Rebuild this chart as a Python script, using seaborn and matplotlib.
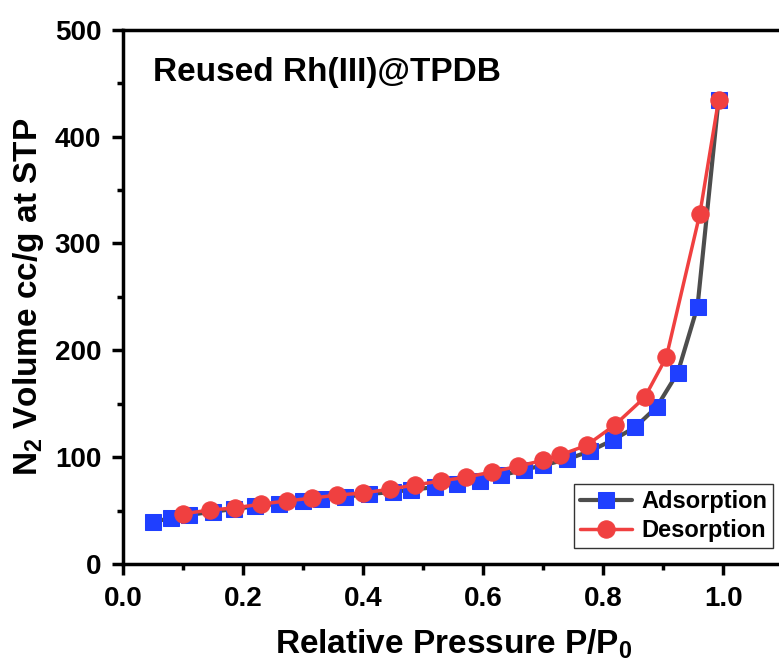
import numpy as np
import pandas as pd
import matplotlib
matplotlib.use('Agg')
import matplotlib.pyplot as plt
import seaborn as sns
from matplotlib.ticker import MultipleLocator

# Datos
ads_p = [0.05, 0.08, 0.11, 0.15, 0.185, 0.22, 0.26, 0.30, 0.33, 0.37, 0.41, 0.45,
         0.48, 0.52, 0.556, 0.594, 0.63, 0.667, 0.70, 0.74, 0.777, 0.816, 0.853,
         0.889, 0.924, 0.957, 0.992]
ads_v = [39.5, 43, 46, 49, 51.5, 54, 56.5, 59, 61, 63, 65.5, 67.5,
         69.5, 72, 75, 78, 83, 88, 92.5, 98, 105.5, 116, 128,
         147, 179, 241, 434]

des_p = [0.10, 0.144, 0.186, 0.229, 0.272, 0.315, 0.356, 0.399, 0.444, 0.486,
         0.529, 0.571, 0.614, 0.658, 0.70, 0.728, 0.772, 0.819, 0.869, 0.905,
         0.961, 0.992]
des_v = [47, 50.5, 52.5, 56, 59, 61.7, 64.5, 66.4, 70, 74,
         77.6, 81.3, 86, 91.6, 97, 102, 111, 130, 156, 193.5,
         328, 434]

ads = pd.DataFrame({'p': ads_p, 'v': ads_v})
des = pd.DataFrame({'p': des_p, 'v': des_v})

sns.set_style('white')
plt.rcParams['font.family'] = ['Liberation Sans', 'DejaVu Sans']
plt.rcParams['font.weight'] = 'bold'
plt.rcParams['mathtext.fontset'] = 'custom'
plt.rcParams['mathtext.bf'] = 'Liberation Sans:bold'
plt.rcParams['mathtext.rm'] = 'Liberation Sans:bold'
plt.rcParams['mathtext.default'] = 'bf'
for k in ['text.color', 'axes.labelcolor', 'xtick.color', 'ytick.color']:
    plt.rcParams[k] = 'black'

fig = plt.figure(figsize=(7.79, 6.66), dpi=100)
ax = fig.add_axes([0.1585, 0.1532, 0.847, 0.802])

sns.lineplot(data=ads, x='p', y='v', ax=ax, color='#4d4d4d', lw=3,
             marker='s', markersize=11, markerfacecolor='#1f3fff',
             markeredgecolor='#1f3fff', label='Adsorption', sort=False)
sns.lineplot(data=des, x='p', y='v', ax=ax, color='#f04040', lw=2.5,
             marker='o', markersize=12.5, markerfacecolor='#f04040',
             markeredgecolor='#f04040', label='Desorption', sort=False)

ax.set_xlim(0, 1.1)
ax.set_ylim(0, 500)
ax.xaxis.set_minor_locator(MultipleLocator(0.1))
ax.yaxis.set_major_locator(MultipleLocator(100))
ax.yaxis.set_minor_locator(MultipleLocator(50))
ax.set_xticks(np.arange(0, 1.01, 0.2))
ax.set_xticklabels(['0.0', '0.2', '0.4', '0.6', '0.8', '1.0'])

ax.tick_params(which='major', direction='out', length=8, width=2.5,
               labelsize=20, pad=8, bottom=True, left=True)
ax.tick_params(which='minor', direction='out', length=4.5, width=2.5,
               bottom=True, left=True)
for s in ax.spines.values():
    s.set_linewidth(2.5)
    s.set_color('black')
ax.spines['right'].set_visible(False)

ax.set_xlabel('Relative Pressure P/P$_\\mathbf{0}$', fontsize=24, fontweight='bold', labelpad=11)
ax.set_ylabel('N$_\\mathbf{2}$ Volume cc/g at STP', fontsize=24, fontweight='bold', labelpad=6)

ax.text(0.045, 0.921, 'Reused Rh(III)@TPDB', transform=ax.transAxes,
        fontsize=24, fontweight='bold', va='center')

leg = ax.legend(loc='lower right', bbox_to_anchor=(0.985, 0.03), fontsize=17,
                frameon=True, fancybox=False, edgecolor='black',
                handlelength=2.2, borderpad=0.25, labelspacing=0.25,
                handletextpad=0.4, borderaxespad=0)
leg.get_frame().set_linewidth(1)
for t in leg.get_texts():
    t.set_fontweight('bold')

fig.savefig('out.png', dpi=100)
